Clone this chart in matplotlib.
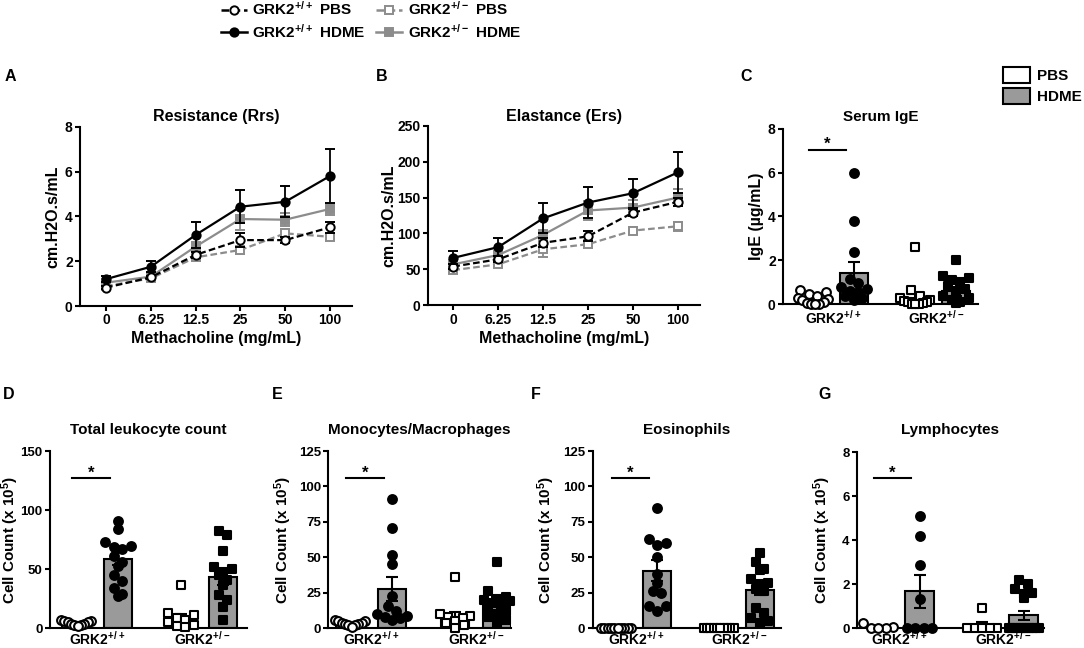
import numpy as np
import matplotlib
matplotlib.use('Agg')
import matplotlib.pyplot as plt
from matplotlib.lines import Line2D
from matplotlib.patches import Patch

plt.rcParams['font.family'] = ['Liberation Sans', 'DejaVu Sans']
plt.rcParams['font.weight'] = 'bold'
plt.rcParams['axes.labelweight'] = 'bold'
plt.rcParams['axes.titleweight'] = 'bold'
plt.rcParams['mathtext.default'] = 'regular'

# ---------------- data ----------------
doses = ['0', '6.25', '12.5', '25', '50', '100']

rrs_wt_pbs = [0.82, 1.28, 2.28, 2.94, 2.94, 3.51]
rrs_wt_pbs_sem = [0.08, 0.08, 0.15, 0.30, 0.12, 0.25]
rrs_wt_hdme = [1.20, 1.75, 3.17, 4.43, 4.65, 5.80]
rrs_wt_hdme_sem = [0.14, 0.25, 0.56, 0.74, 0.70, 1.19]
rrs_het_pbs = [0.89, 1.23, 2.17, 2.50, 3.24, 3.09]
rrs_het_pbs_sem = [0.10, 0.08, 0.15, 0.18, 0.20, 0.15]
rrs_het_hdme = [1.04, 1.31, 2.65, 3.88, 3.85, 4.33]
rrs_het_hdme_sem = [0.10, 0.10, 0.20, 0.48, 0.30, 0.27]

ers_wt_pbs = [54, 64, 87, 96, 129, 144]
ers_wt_pbs_sem = [4, 4, 6, 7, 5, 6]
ers_wt_hdme = [66, 81, 121, 143, 156, 185]
ers_wt_hdme_sem = [9, 13, 21, 22, 20, 28]
ers_het_pbs = [49, 57, 78, 85, 104, 110]
ers_het_pbs_sem = [4, 4, 11, 5, 5, 6]
ers_het_hdme = [57, 70, 98, 132, 136, 150]
ers_het_hdme_sem = [5, 5, 7, 13, 10, 12]

group_labels = ['GRK2$^{+/+}$', 'GRK2$^{+/-}$']
legend_labels = ['GRK2$^{+/+}$ PBS', 'GRK2$^{+/+}$ HDME',
                 'GRK2$^{+/-}$ PBS', 'GRK2$^{+/-}$ HDME']
treatments = ['PBS', 'HDME']

# Serum IgE (ug/mL)
ige_wt_pbs = [0.65, 0.55, 0.45, 0.4, 0.3, 0.25, 0.2, 0.1, 0.05, 0.02, 0.0, 0.0]
ige_wt_hdme = [6.0, 3.8, 2.4, 1.15, 0.95, 0.8, 0.7, 0.6, 0.55, 0.4, 0.3, 0.2]
ige_het_pbs = [2.6, 0.65, 0.4, 0.3, 0.2, 0.15, 0.1, 0.1, 0.05, 0.0, 0.0, 0.0]
ige_het_hdme = [2.0, 1.3, 1.2, 1.1, 1.0, 0.85, 0.7, 0.55, 0.4, 0.3, 0.2, 0.1, 0.05]
ige_means = [0.25, 1.43, 0.27, 0.60]
ige_sems = [0.07, 0.48, 0.22, 0.20]

# Total leukocytes (x10^5)
tot_wt_pbs = [7, 6, 6, 5, 5, 4, 4, 3, 3, 2]
tot_wt_hdme = [91, 84, 73, 70, 69, 67, 61, 56, 53, 45, 40, 34, 29, 27]
tot_het_pbs = [37, 13, 11, 9, 7, 5, 3, 2, 1]
tot_het_hdme = [82, 79, 65, 52, 50, 48, 45, 41, 37, 28, 24, 18, 7]
tot_means = [4.5, 59.0, 8.5, 43.5]
tot_sems = [0.6, 5.5, 3.8, 6.5]

# Monocytes / macrophages
mono_wt_pbs = [6, 5, 5, 4, 4, 3, 3, 2, 2, 1]
mono_wt_hdme = [91, 71, 52, 45, 23, 16, 12, 10, 9, 8, 7, 6]
mono_het_pbs = [36, 10, 9, 8, 7, 5, 4, 2, 0]
mono_het_hdme = [47, 26, 22, 21, 20, 19, 18, 16, 14, 12, 10, 8, 6, 4]
mono_means = [3.5, 28.0, 8.0, 19.0]
mono_sems = [0.5, 8.5, 3.5, 3.0]

# Eosinophils
eos_wt_pbs = [0, 0, 0, 0, 0, 0, 0, 0, 0, 0]
eos_wt_hdme = [85, 63, 60, 59, 50, 38, 32, 26, 25, 16, 16, 12]
eos_het_pbs = [0, 0, 0, 0, 0, 0, 0, 0, 0, 0]
eos_het_hdme = [53, 47, 42, 41, 35, 32, 31, 28, 26, 14, 11, 7, 5, 4]
eos_means = [0.0, 40.5, 0.0, 27.0]
eos_sems = [0.0, 7.5, 0.0, 3.8]

# Lymphocytes
lym_wt_pbs = [0.25, 0.05, 0, 0, 0]
lym_wt_hdme = [5.1, 4.2, 2.9, 1.35, 0, 0, 0, 0]
lym_het_pbs = [0.92, 0, 0, 0, 0, 0]
lym_het_hdme = [2.2, 2.0, 1.8, 1.6, 1.55, 1.4, 0, 0, 0, 0, 0, 0, 0, 0, 0, 0, 0, 0]
lym_means = [0.06, 1.68, 0.15, 0.59]
lym_sems = [0.05, 0.75, 0.15, 0.20]

# ---------------- style / layout ----------------
W, H = 1084, 648
GRAY_LINE = '#8c8c8c'
GRAY_BAR = '#9a9a9a'
SPINE_LW = 1.5
TICK_FS = 10

fig = plt.figure(figsize=(W / 100, H / 100), dpi=100)


def add_ax(left, right, top, bottom):
    return fig.add_axes([left / W, (H - bottom) / H, (right - left) / W, (bottom - top) / H])


def style_ax(ax, fs=TICK_FS):
    for s in ['top', 'right']:
        ax.spines[s].set_visible(False)
    for s in ['left', 'bottom']:
        ax.spines[s].set_linewidth(SPINE_LW)
    ax.tick_params(axis='both', direction='out', length=3.8, width=SPINE_LW,
                   labelsize=fs, pad=1.5)


def px_text(x, y, s, **kw):
    fig.text(x / W, 1 - y / H, s, **kw)


# ---------- line panels ----------
def line_panel(box, series, ymax, yticks, x0px, title, ylabel, ylabel_x, letter, letter_x):
    left, right, top, bottom = box
    ax = add_ax(left, right, top, bottom)
    x = np.arange(len(doses))
    handles = []
    for vals, sems, color, marker, mfc, ls, z in series:
        ax.errorbar(x, vals, yerr=sems, color=color, ecolor=color, marker=marker,
                    mfc=mfc, mec=color, ms=6, mew=1.4, lw=1.6, ls=ls,
                    capsize=3.5, capthick=1.3, elinewidth=1.3, zorder=z, clip_on=False)
        handles.append(Line2D([], [], color=color, marker=marker, mfc=mfc, mec=color,
                              ms=6, mew=1.4, lw=1.8, ls=ls))
    u = x0px[1]
    ax.set_xlim((left - x0px[0]) / u, (right - x0px[0]) / u)
    ax.set_ylim(0, ymax)
    ax.set_xticks(x)
    ax.set_xticklabels(doses)
    ax.set_yticks(yticks)
    style_ax(ax)
    cx = (left + right) / 2
    px_text(cx, 121, title, ha='center', va='baseline', fontsize=11.5, fontweight='bold')
    px_text(cx, 343, 'Methacholine (mg/mL)', ha='center', va='baseline', fontsize=11.5,
            fontweight='bold')
    px_text(ylabel_x, (top + bottom) / 2, ylabel, rotation=90, ha='center', va='center',
            fontsize=11.5, fontweight='bold')
    px_text(letter_x, 80.7, letter, ha='left', va='baseline', fontsize=11.5, fontweight='bold')
    return ax, handles


A_box = (80, 351.7, 126.7, 306)
B_box = (428, 699.7, 125.7, 305.3)

seriesA = [
    (rrs_het_pbs, rrs_het_pbs_sem, GRAY_LINE, 's', 'white', (0, (3, 1.5)), 2),
    (rrs_het_hdme, rrs_het_hdme_sem, GRAY_LINE, 's', GRAY_LINE, '-', 3),
    (rrs_wt_pbs, rrs_wt_pbs_sem, 'black', 'o', 'white', (0, (3, 1.5)), 4),
    (rrs_wt_hdme, rrs_wt_hdme_sem, 'black', 'o', 'black', '-', 5),
]
seriesB = [
    (ers_het_pbs, ers_het_pbs_sem, GRAY_LINE, 's', 'white', (0, (3, 1.5)), 2),
    (ers_het_hdme, ers_het_hdme_sem, GRAY_LINE, 's', GRAY_LINE, '-', 3),
    (ers_wt_pbs, ers_wt_pbs_sem, 'black', 'o', 'white', (0, (3, 1.5)), 4),
    (ers_wt_hdme, ers_wt_hdme_sem, 'black', 'o', 'black', '-', 5),
]

axA, hA = line_panel(A_box, seriesA, 8, [0, 2, 4, 6, 8], (106, 44.8),
                     'Resistance (Rrs)', 'cm.H2O.s/mL', 53, 'A', 5)
axB, hB = line_panel(B_box, seriesB, 250, [0, 50, 100, 150, 200, 250], (453.3, 44.9),
                     'Elastance (Ers)', 'cm.H2O.s/mL', 389, 'B', 376)

# top legend: order wt PBS, wt HDME, het PBS, het HDME
leg_handles = [hA[2], hA[3], hA[0], hA[1]]
fig.legend(leg_handles, legend_labels, ncol=2, loc='upper left',
           bbox_to_anchor=(221 / W, 1 - 0 / H), frameon=False, fontsize=11,
           handlelength=1.7, handletextpad=0.35, columnspacing=0.7,
           labelspacing=0.3, borderpad=0.0, borderaxespad=0.0)


# ---------- bar + scatter panels ----------
def swarm_offsets(vals, ymax, h_px, d_px, max_w_px, unit_px):
    vals = np.asarray(vals, float)
    py = vals / ymax * h_px
    order = np.argsort(-py, kind='stable')
    offs = np.zeros(len(vals))
    bins = []
    cur = [order[0]]
    for idx in order[1:]:
        if py[cur[0]] - py[idx] < d_px * 0.85:
            cur.append(idx)
        else:
            bins.append(cur)
            cur = [idx]
    bins.append(cur)
    for b in bins:
        n = len(b)
        if n == 1:
            continue
        w = min((n - 1) * d_px * 0.95, max_w_px)
        o = np.linspace(-w / 2, w / 2, n)
        seq = []
        lo, hi = 0, n - 1
        while lo <= hi:
            seq.append(lo)
            if hi != lo:
                seq.append(hi)
            lo += 1
            hi -= 1
        for k, idx in enumerate(b):
            offs[idx] = o[seq[k]]
    return offs / unit_px


def bar_panel(box, first_px, unit_px, groups, means, sems, ymax, yticks, title,
              ylabel, ylabel_x, letter, letter_x, letter_y, title_y, sig_y, xpad,
              ylabel_fs=11.5, tick_fs=TICK_FS):
    left, right, top, bottom = box
    ax = add_ax(left, right, top, bottom)
    pos = np.array([0, 1, 2.5, 3.5])
    bw = 0.68
    ax.bar(pos, means, width=bw, color=['white', GRAY_BAR, 'white', GRAY_BAR],
           edgecolor='black', linewidth=1.5, zorder=2)
    ax.errorbar(pos, means, yerr=sems, fmt='none', ecolor='black', elinewidth=1.5,
                capsize=4.5, capthick=1.5, zorder=3)
    marks = [('o', 'white'), ('o', 'black'), ('s', 'white'), ('s', 'black')]
    h_px = bottom - top
    for p, vals, (m, fc) in zip(pos, groups, marks):
        offs = swarm_offsets(vals, ymax, h_px, 9, 30, unit_px)
        ax.scatter(p + offs, vals, marker=m, s=40 if m == 'o' else 36, facecolors=fc,
                   edgecolors='black', linewidths=1.5, zorder=4, clip_on=False)
    ax.set_xlim((left - first_px) / unit_px, (right - first_px) / unit_px)
    ax.set_ylim(0, ymax)
    ax.set_yticks(yticks)
    ax.set_xticks([0.5, 3.0])
    ax.set_xticklabels(group_labels)
    style_ax(ax, tick_fs)
    ax.tick_params(axis='x', length=0, pad=xpad, labelsize=TICK_FS)
    ax.plot([-0.1, 0.8], [sig_y, sig_y], color='black', lw=1.5, zorder=5, clip_on=False)
    ax.annotate('*', (0.35, sig_y), xytext=(0, 0.5), textcoords='offset points',
                ha='center', va='baseline', fontsize=12, fontweight='bold')
    cx = (left + right) / 2
    px_text(cx, title_y, title, ha='center', va='baseline', fontsize=11, fontweight='bold')
    px_text(ylabel_x, (top + bottom) / 2, ylabel, rotation=90, ha='center', va='center',
            fontsize=ylabel_fs, fontweight='bold')
    px_text(letter_x, letter_y, letter, ha='left', va='baseline', fontsize=11.5,
            fontweight='bold')
    return ax


cell_label = 'Cell Count (x 10$^{5}$)'

bar_panel((783, 978, 128.7, 304.3), 813, 40.9,
          [ige_wt_pbs, ige_wt_hdme, ige_het_pbs, ige_het_hdme], ige_means, ige_sems,
          8, [0, 2, 4, 6, 8], 'Serum IgE', 'IgE (µg/mL)', 756, 'C', 740, 80.7, 121, 7.05,
          3.5)

bar_panel((50, 246.7, 451, 628.3), 76, 42,
          [tot_wt_pbs, tot_wt_hdme, tot_het_pbs, tot_het_hdme], tot_means, tot_sems,
          150, [0, 50, 100, 150], 'Total leukocyte count', cell_label, 10.5, 'D', 3, 399,
          434, 127, 1.2, 11, 9.5)
bar_panel((328.3, 511, 451, 628.3), 350, 42,
          [mono_wt_pbs, mono_wt_hdme, mono_het_pbs, mono_het_hdme], mono_means, mono_sems,
          125, [0, 25, 50, 75, 100, 125], 'Monocytes/Macrophages', cell_label, 283, 'E',
          271.7, 399, 434, 105.7, 1.2, 11, 9.5)
bar_panel((592.7, 781.3, 451, 628.3), 616, 41.1,
          [eos_wt_pbs, eos_wt_hdme, eos_het_pbs, eos_het_hdme], eos_means, eos_sems,
          125, [0, 25, 50, 75, 100, 125], 'Eosinophils', cell_label, 546, 'F', 531,
          399, 434, 105.7, 1.2, 11, 9.5)
bar_panel((857, 1043.7, 452.3, 628.3), 878, 41.6,
          [lym_wt_pbs, lym_wt_hdme, lym_het_pbs, lym_het_hdme], lym_means, lym_sems,
          8, [0, 2, 4, 6, 8], 'Lymphocytes', cell_label, 822, 'G', 818, 399, 434, 6.82,
          1.2, 11, 9.5)

# PBS / HDME legend
fig.legend([Patch(facecolor='white', edgecolor='black', linewidth=1.5),
            Patch(facecolor=GRAY_BAR, edgecolor='black', linewidth=1.5)],
           treatments, loc='upper left', bbox_to_anchor=(1003 / W, 1 - 67 / H),
           frameon=False, fontsize=11, handlelength=1.75, handleheight=1.25,
           handletextpad=0.45, labelspacing=0.3, borderpad=0.0, borderaxespad=0.0)

fig.savefig('out.png', dpi=100)
